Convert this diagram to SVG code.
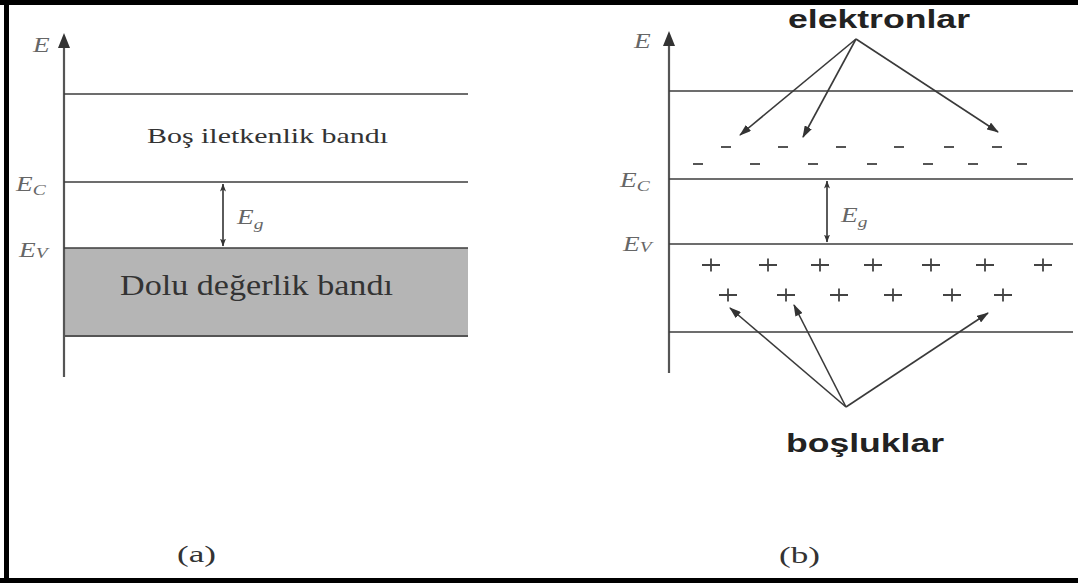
<svg xmlns="http://www.w3.org/2000/svg" width="1078" height="583" viewBox="0 0 1078 583">
<defs>
<style>
.ln{stroke:#3c3c3c;stroke-width:1.6;fill:none}
.ax{stroke:#555;stroke-width:2.2;fill:none}
.ser{font-family:"Liberation Serif","Times New Roman",serif;fill:#333}
.lab{font-family:"Liberation Serif","Times New Roman",serif;font-style:italic;fill:#666;font-size:21px}
.sub{font-size:15px}
.bold{font-family:"Liberation Sans",Arial,sans-serif;font-weight:bold;fill:#222;font-size:25px}
.mn{stroke:#555;stroke-width:2.2;fill:none}
.pl{stroke:#444;stroke-width:1.8;fill:none}
.arr{stroke:#3a3a3a;stroke-width:1.6;fill:none;marker-end:url(#ah)}
.eg{stroke:#333;stroke-width:1.6;fill:none;marker-end:url(#sh);marker-start:url(#sh)}
</style>
<marker id="ah" viewBox="0 0 12 8" refX="11" refY="4" markerWidth="12" markerHeight="8" markerUnits="userSpaceOnUse" orient="auto"><path d="M0,0 L12,4 L0,8 z" fill="#333"/></marker>
<marker id="sh" viewBox="0 0 8 6" refX="7.5" refY="3" markerWidth="8" markerHeight="6" markerUnits="userSpaceOnUse" orient="auto-start-reverse"><path d="M0,0 L8,3 L0,6 L2,3 z" fill="#333"/></marker>
</defs>
<rect width="1078" height="583" fill="#fff"/>
<g id="frame" fill="#000">
<rect x="0" y="0" width="1078" height="5"/>
<rect x="4" y="0" width="5" height="583"/>
<rect x="0" y="578" width="1078" height="5"/>
</g>

<g id="panel-a">
<rect x="64" y="248" width="404" height="88" fill="#b5b5b5"/>
<line class="ax" x1="64" y1="44" x2="64" y2="377"/>
<path d="M64,33 L70,48 L58,48 z" fill="#333"/>
<line class="ln" x1="64" y1="94" x2="468" y2="94"/>
<line class="ln" x1="64" y1="182" x2="468" y2="182"/>
<line class="ln" x1="64" y1="248" x2="468" y2="248"/>
<line x1="64" y1="336" x2="468" y2="336" stroke="#555" stroke-width="2"/>
<text class="lab" transform="translate(33,52) scale(1.3,1)">E</text>
<text class="lab" transform="translate(16,191) scale(1.3,1)">E<tspan class="sub" dy="4">C</tspan></text>
<text class="lab" transform="translate(19,257) scale(1.3,1)">E<tspan class="sub" dy="1">V</tspan></text>
<text class="lab" transform="translate(237,224) scale(1.3,1)">E<tspan class="sub" dy="5">g</tspan></text>
<text class="ser" x="147" y="143" font-size="21" textLength="241" lengthAdjust="spacingAndGlyphs">Boş iletkenlik bandı</text>
<text class="ser" x="120" y="295" font-size="29" textLength="273" lengthAdjust="spacingAndGlyphs">Dolu değerlik bandı</text>
<text class="ser" x="177" y="562" font-size="24" textLength="39" lengthAdjust="spacingAndGlyphs">(a)</text>
</g>

<g id="panel-b">
<line class="ax" x1="669" y1="42" x2="669" y2="373"/>
<path d="M669,31 L675,46 L663,46 z" fill="#333"/>
<line class="ln" x1="669" y1="91" x2="1073" y2="91"/>
<line class="ln" x1="669" y1="179" x2="1073" y2="179"/>
<line class="ln" x1="669" y1="244" x2="1073" y2="244"/>
<line class="ln" x1="669" y1="332" x2="1073" y2="332"/>
<text class="lab" transform="translate(634,48) scale(1.3,1)">E</text>
<text class="lab" transform="translate(620,187) scale(1.3,1)">E<tspan class="sub" dy="4">C</tspan></text>
<text class="lab" transform="translate(623,251) scale(1.3,1)">E<tspan class="sub" dy="1">V</tspan></text>
<text class="lab" transform="translate(841,222) scale(1.3,1)">E<tspan class="sub" dy="5">g</tspan></text>
<text class="ser" x="779" y="563" font-size="24" textLength="41" lengthAdjust="spacingAndGlyphs">(b)</text>
</g>

<g id="electrons">
<path class="mn" d="M721,147h10M778,147h10M836,147h10M894,147h10M944,147h10M992,147h10"/>
<path class="mn" d="M693,164h10M750,164h10M808,164h10M867,164h10M923,164h10M968,164h10M1017,164h10"/>
</g>

<g id="holes">
<path class="pl" d="M702,265h18M711,258.5v13M759,265h18M768,258.5v13M811,265h18M820,258.5v13M864,265h18M873,258.5v13M922,265h18M931,258.5v13M976,265h18M985,258.5v13M1034,265h18M1043,258.5v13"/>
<path class="pl" d="M719,295h18M728,288.5v13M777,295h18M786,288.5v13M830,295h18M839,288.5v13M884,295h18M893,288.5v13M943,295h18M952,288.5v13M994,295h18M1003,288.5v13"/>
</g>

<g id="label-elektronlar">
<text class="bold" x="788" y="28" textLength="182" lengthAdjust="spacingAndGlyphs">elektronlar</text>
</g>
<g id="label-bosluklar">
<text class="bold" x="786" y="452" textLength="158" lengthAdjust="spacingAndGlyphs">boşluklar</text>
</g>

<g id="connectors">
<line class="eg" x1="223" y1="184" x2="223" y2="246"/>
<line class="eg" x1="827" y1="181" x2="827" y2="242"/>
<line class="arr" x1="856" y1="39" x2="740" y2="135"/>
<line class="arr" x1="856" y1="39" x2="803" y2="137"/>
<line class="arr" x1="856" y1="39" x2="998" y2="132"/>
<line class="arr" x1="846" y1="407" x2="730" y2="308"/>
<line class="arr" x1="846" y1="407" x2="794" y2="305"/>
<line class="arr" x1="846" y1="407" x2="988" y2="313"/>
</g>
</svg>
